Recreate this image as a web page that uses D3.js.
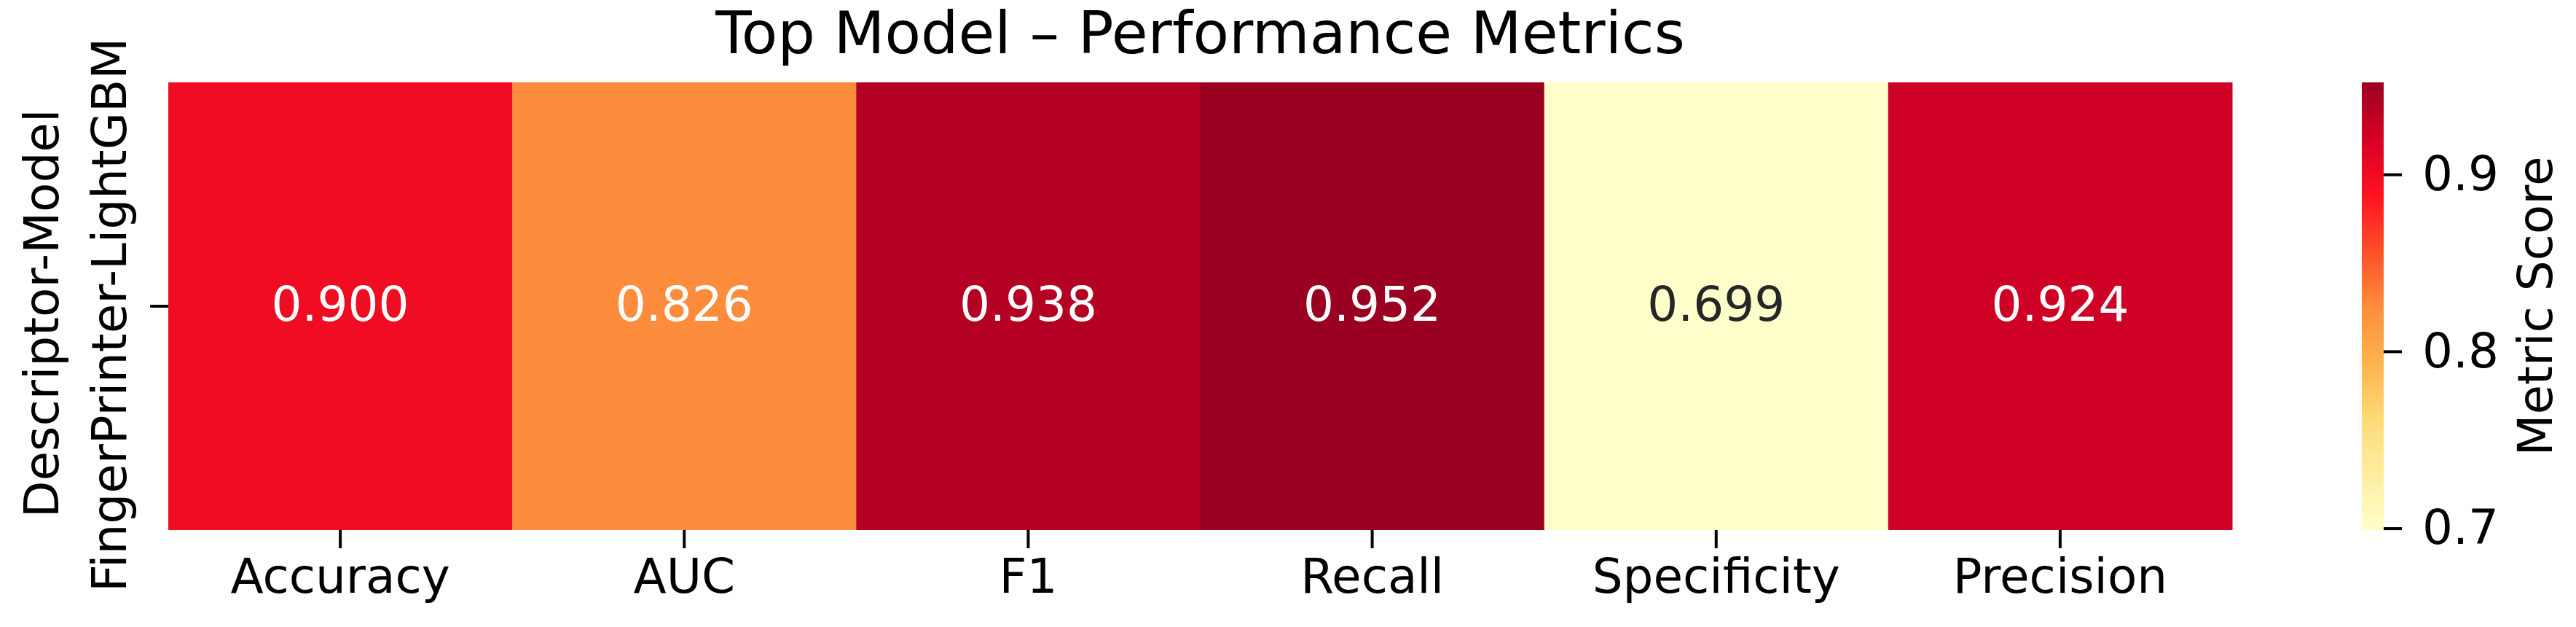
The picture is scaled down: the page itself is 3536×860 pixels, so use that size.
<!DOCTYPE html>
<html>
<head>
<meta charset="utf-8">
<script src="https://cdn.jsdelivr.net/npm/d3@7"></script>
<style>
  html, body { margin: 0; padding: 0; background: #ffffff; }
  svg { display: block; }
  text { font-family: "DejaVu Sans", sans-serif; }
</style>
</head>
<body>
<svg id="chart" width="3536" height="860"></svg>
<script>
// ---- data ----
const metrics = ["Accuracy", "AUC", "F1", "Recall", "Specificity", "Precision"];
const rowLabels = ["FingerPrinter-LightGBM"];
const scores = [0.900, 0.826, 0.938, 0.952, 0.699, 0.924];
const colorbarTicks = [0.7, 0.8, 0.9];
const cmapColors = ["#ffffcc", "#ffeda0", "#fed976", "#feb24c", "#fd8d3c", "#fc4e2a", "#ff1220", "#d60025", "#990022"];
const titleText = "Top Model \u2013 Performance Metrics";
const yLabelText = "Descriptor-Model";
const cbarLabelText = "Metric Score";

// ---- layout ----
const W = 3536, H = 860;
const plot = { left: 231, right: 3064, top: 113, bottom: 727 };
const cbar = { left: 3242, right: 3272 };
const tickFont = 66, titleFont = 81, annotFont = 66;

const svg = d3.select("#chart");

const vmin = d3.min(scores), vmax = d3.max(scores);
const color = d3.scaleLinear()
  .domain(cmapColors.map((c, i) => vmin + (vmax - vmin) * i / (cmapColors.length - 1)))
  .range(cmapColors)
  .interpolate(d3.interpolateRgb)
  .clamp(true);

const x = d3.scaleBand().domain(metrics).range([plot.left, plot.right]).padding(0);
const y = d3.scaleBand().domain(rowLabels).range([plot.top, plot.bottom]).padding(0);

const cells = metrics.map((m, i) => ({ metric: m, row: rowLabels[0], value: scores[i] }));

// cells
svg.append("g").selectAll("rect").data(cells).join("rect")
  .attr("x", d => x(d.metric))
  .attr("y", d => y(d.row))
  .attr("width", x.bandwidth() + 0.5)
  .attr("height", y.bandwidth())
  .attr("fill", d => color(d.value));

function luminance(c) {
  const rgb = d3.rgb(c);
  const f = v => { v /= 255; return v <= 0.03928 ? v / 12.92 : Math.pow((v + 0.055) / 1.055, 2.4); };
  return 0.2126 * f(rgb.r) + 0.7152 * f(rgb.g) + 0.0722 * f(rgb.b);
}

// annotations
svg.append("g").selectAll("text").data(cells).join("text")
  .attr("x", d => x(d.metric) + x.bandwidth() / 2)
  .attr("y", d => y(d.row) + y.bandwidth() / 2 - 3)
  .attr("text-anchor", "middle")
  .attr("dominant-baseline", "central")
  .attr("font-size", annotFont)
  .attr("fill", d => luminance(color(d.value)) > 0.408 ? "#262626" : "#ffffff")
  .text(d => d.value.toFixed(3));

// x axis
const xAxis = d3.axisBottom(x).tickSize(25).tickPadding(14);
const gx = svg.append("g").attr("transform", `translate(0,${plot.bottom})`).call(xAxis);
gx.select(".domain").remove();
gx.selectAll(".tick line").attr("stroke", "#000").attr("stroke-width", 4);
gx.selectAll(".tick text").attr("font-size", tickFont).attr("fill", "#000")
  .attr("font-family", "DejaVu Sans");

// y axis
const yAxis = d3.axisLeft(y).tickSize(25).tickPadding(14);
const gy = svg.append("g").attr("transform", `translate(${plot.left},0)`).call(yAxis);
gy.select(".domain").remove();
gy.selectAll(".tick line").attr("stroke", "#000").attr("stroke-width", 4);
gy.selectAll(".tick text").attr("font-size", tickFont).attr("fill", "#000")
  .attr("font-family", "DejaVu Sans")
  .attr("text-anchor", "middle")
  .attr("dy", null)
  .attr("x", null)
  .attr("transform", "translate(-58,12) rotate(-90)")
  .attr("dominant-baseline", "auto")
  .attr("y", 0);

// y label
svg.append("text")
  .attr("transform", `translate(80,${(plot.top + plot.bottom) / 2 + 10}) rotate(-90)`)
  .attr("text-anchor", "middle")
  .attr("font-size", tickFont)
  .attr("fill", "#000")
  .text(yLabelText);

// title
svg.append("text")
  .attr("x", (plot.left + plot.right) / 2)
  .attr("y", 73)
  .attr("text-anchor", "middle")
  .attr("font-size", titleFont)
  .attr("fill", "#000")
  .text(titleText);

// colorbar
const cy = d3.scaleLinear().domain([vmin, vmax]).range([plot.bottom, plot.top]);
const defs = svg.append("defs");
const grad = defs.append("linearGradient").attr("id", "cbgrad")
  .attr("x1", 0).attr("y1", 1).attr("x2", 0).attr("y2", 0);
grad.selectAll("stop").data(d3.range(0, 101)).join("stop")
  .attr("offset", d => d + "%")
  .attr("stop-color", d => color(vmin + (vmax - vmin) * d / 100));
svg.append("rect")
  .attr("x", cbar.left).attr("y", plot.top)
  .attr("width", cbar.right - cbar.left)
  .attr("height", plot.bottom - plot.top)
  .attr("fill", "url(#cbgrad)");

const cAxis = d3.axisRight(cy).tickValues(colorbarTicks).tickFormat(d3.format(".1f")).tickSize(25).tickPadding(28);
const gc = svg.append("g").attr("transform", `translate(${cbar.right},0)`).call(cAxis);
gc.select(".domain").remove();
gc.selectAll(".tick line").attr("stroke", "#000").attr("stroke-width", 4);
gc.selectAll(".tick text").attr("font-size", tickFont).attr("fill", "#000")
  .attr("font-family", "DejaVu Sans");

svg.append("text")
  .attr("transform", `translate(3503,${(plot.top + plot.bottom) / 2}) rotate(-90)`)
  .attr("text-anchor", "middle")
  .attr("font-size", tickFont)
  .attr("fill", "#000")
  .text(cbarLabelText);
</script>
</body>
</html>
